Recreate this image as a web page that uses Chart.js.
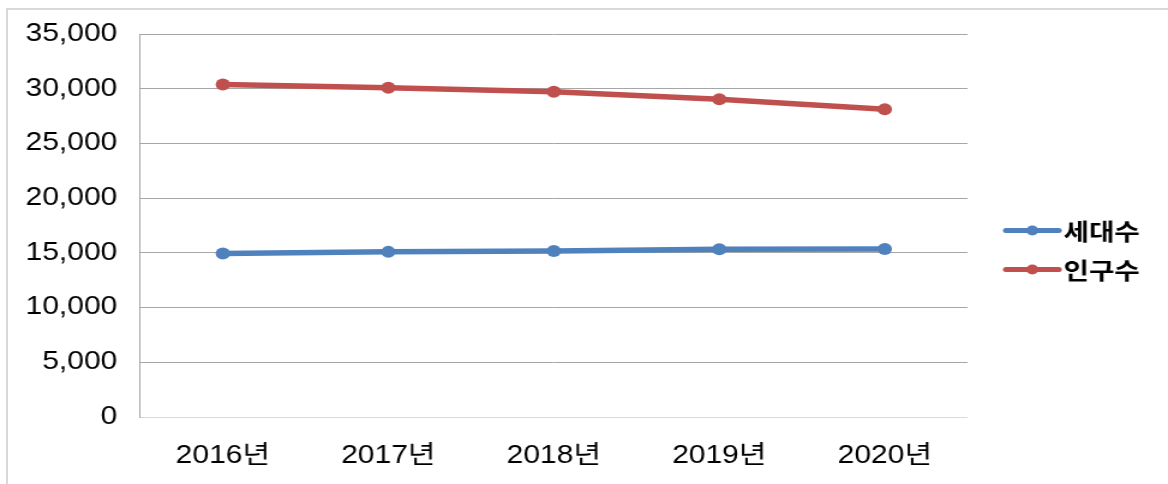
<!DOCTYPE html>
<html>
<head>
<meta charset="utf-8">
<script src="https://cdn.jsdelivr.net/npm/chart.js@4.4.0/dist/chart.umd.min.js"></script>
<style>
  html, body { margin: 0; padding: 0; background: #ffffff; overflow: hidden; width: 1168px; height: 484px; }
  #frame { position: absolute; left: 6px; top: 8px; width: 1300px; height: 600px; border: 2px solid #d9d9d9; box-sizing: border-box; }
  #c { position: absolute; left: 0; top: 0; transform-origin: 0 0; transform: scaleX(1.2004); }
</style>
</head>
<body>
<div id="frame"></div>
<canvas id="c" width="973" height="484"></canvas>
<script>
const years = ['2016년', '2017년', '2018년', '2019년', '2020년'];
const households = [14950, 15090, 15180, 15330, 15360];
const population = [30390, 30090, 29730, 29030, 28120];
const seriesNames = ['세대수', '인구수'];
const seriesColors = ['#4F81BD', '#C0504D'];
const yTicks = { min: 0, max: 35000, step: 5000 };

const FONT = '"Liberation Sans", "Noto Sans CJK KR", Arial, sans-serif';

const sideLegend = {
  id: 'sideLegend',
  afterDraw(chart) {
    const ctx = chart.ctx;
    const area = chart.chartArea;
    const x0 = area.right + 32;
    const len = 44;
    const yc = chart.height / 2 + 8;
    const gap = 39;
    chart.data.datasets.forEach((ds, i) => {
      const y = yc - gap / 2 + i * gap;
      ctx.save();
      ctx.strokeStyle = ds.borderColor;
      ctx.lineWidth = 5;
      ctx.lineCap = 'round';
      ctx.beginPath();
      ctx.moveTo(x0, y);
      ctx.lineTo(x0 + len, y);
      ctx.stroke();
      ctx.fillStyle = ds.borderColor;
      ctx.beginPath();
      ctx.arc(x0 + len / 2, y, 5, 0, Math.PI * 2);
      ctx.fill();
      ctx.fillStyle = '#000000';
      ctx.font = 'bold 23px "Noto Sans CJK KR", ' + FONT;
      ctx.textBaseline = 'middle';
      ctx.textAlign = 'left';
      ctx.fillText(ds.label, x0 + len + 4, y + 1);
      ctx.restore();
    });
  }
};

new Chart(document.getElementById('c'), {
  type: 'line',
  data: {
    labels: years,
    datasets: [
      { label: seriesNames[0], data: households, borderColor: seriesColors[0], backgroundColor: seriesColors[0],
        borderWidth: 5.5, pointRadius: 6, pointHoverRadius: 6, pointBackgroundColor: seriesColors[0], pointBorderWidth: 0, tension: 0 },
      { label: seriesNames[1], data: population, borderColor: seriesColors[1], backgroundColor: seriesColors[1],
        borderWidth: 5.5, pointRadius: 6, pointHoverRadius: 6, pointBackgroundColor: seriesColors[1], pointBorderWidth: 0, tension: 0 }
    ]
  },
  options: {
    responsive: false,
    animation: false,
    devicePixelRatio: 1,
    layout: { padding: { top: 32, left: 0, right: 167, bottom: 13 } },
    plugins: { legend: { display: false }, tooltip: { enabled: false } },
    scales: {
      x: {
        offset: true,
        afterFit: (s) => { s.height = 54; },
        grid: { display: false, drawTicks: false },
        border: { display: false },
        ticks: { color: '#000000', font: { family: FONT, size: 25 }, padding: 24, maxRotation: 0 }
      },
      y: {
        min: yTicks.min,
        max: yTicks.max,
        afterFit: (s) => { s.width = 116.7; },
        grid: {
          drawTicks: false,
          color: (c) => (c.tick && c.tick.value === 0 ? '#d9d9d9' : '#a6a6a6'),
          lineWidth: 1
        },
        border: { display: true, color: '#a6a6a6', width: 1 },
        ticks: {
          stepSize: yTicks.step,
          color: '#000000',
          font: { family: FONT, size: 25 },
          padding: 19,
          callback: (v) => v.toLocaleString('en-US')
        }
      }
    }
  },
  plugins: [sideLegend]
});
</script>
</body>
</html>
